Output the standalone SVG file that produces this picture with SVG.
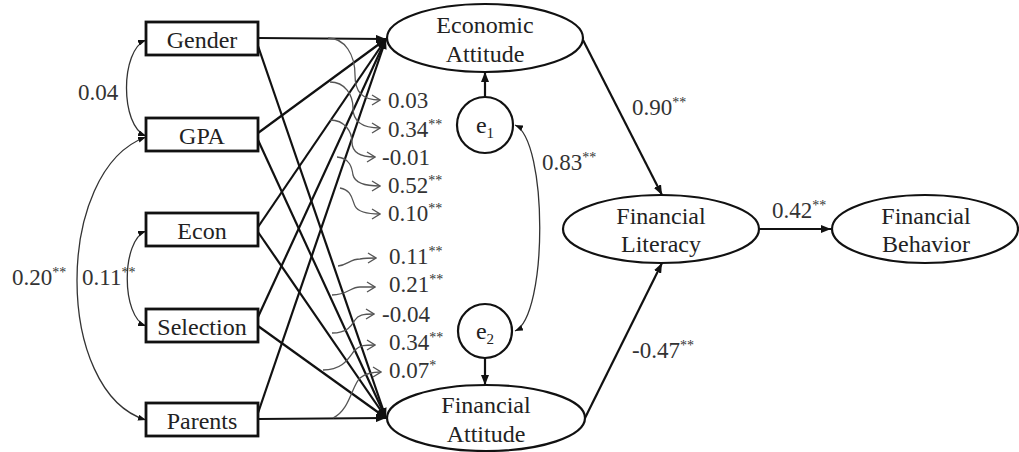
<svg xmlns="http://www.w3.org/2000/svg" width="1019" height="452" viewBox="0 0 1019 452">
<defs>
<marker id="ah" viewBox="0 0 10 8" refX="10" refY="4" markerWidth="10" markerHeight="8" markerUnits="userSpaceOnUse" orient="auto"><path d="M0,0 L10,4 L0,8 z" fill="#111"/></marker>
<marker id="sh" viewBox="0 0 8 6" refX="8" refY="3" markerWidth="8" markerHeight="6" markerUnits="userSpaceOnUse" orient="auto-start-reverse"><path d="M0,0 L8,3 L0,6 z" fill="#111"/></marker>
<marker id="oh" viewBox="0 0 10 12" refX="9" refY="6" markerWidth="10" markerHeight="12" markerUnits="userSpaceOnUse" orient="auto"><path d="M1,1 L9,6 L1,11" fill="none" stroke="#555" stroke-width="1.3"/></marker>
</defs>
<rect width="1019" height="452" fill="#fff"/>
<g id="connectors" fill="none">
<g stroke="#111" stroke-width="2.2" marker-end="url(#ah)">
<line x1="258" y1="38" x2="386" y2="39"/>
<line x1="258" y1="133" x2="386" y2="39"/>
<line x1="258" y1="227" x2="386" y2="39"/>
<line x1="258" y1="317" x2="386" y2="39"/>
<line x1="258" y1="413" x2="386" y2="39"/>
<line x1="258" y1="46" x2="386" y2="418"/>
<line x1="258" y1="140" x2="386" y2="418"/>
<line x1="258" y1="232" x2="386" y2="418"/>
<line x1="258" y1="326" x2="386" y2="418"/>
<line x1="258" y1="419" x2="386" y2="418"/>
<line x1="583" y1="40" x2="662" y2="195"/>
<line x1="585" y1="418" x2="662" y2="263"/>
<line x1="759" y1="229" x2="831" y2="229"/>
<line x1="485" y1="97" x2="485" y2="72"/>
<line x1="485" y1="358" x2="485" y2="385"/>
</g>
<g stroke="#333" stroke-width="1.3" marker-start="url(#sh)" marker-end="url(#sh)">
<path d="M146,40 C120,50 120,126 146,136"/>
<path d="M146,137 C54,170 54,392 146,420"/>
<path d="M146,231 C121,240 121,317 146,326"/>
<path d="M515,125 C548,140 548,316 515,331"/>
</g>
<g stroke="#555" stroke-width="1.3" marker-end="url(#oh)">
<path d="M328,38 C345,38 355,55 355,75 C355,92 362,100 380,100"/>
<path d="M330,82 C345,82 353,95 353,108 C353,122 362,128 380,128"/>
<path d="M330,120 C345,120 352,132 352,142 C352,152 360,157 375,157"/>
<path d="M337,157 C350,158 352,168 353,175 C355,183 365,186 380,186"/>
<path d="M340,188 C352,190 352,200 355,206 C358,212 366,214 380,214"/>
<path d="M338,266 C348,265 350,259 360,259 C366,258 370,258 376,258"/>
<path d="M332,295 C348,295 350,287 360,287 C366,287 370,287 375,287"/>
<path d="M332,333 C348,333 352,325 355,320 C358,315 363,314 374,314"/>
<path d="M323,370 C345,370 350,355 355,350 C360,345 365,345 375,345"/>
<path d="M333,418 C350,410 352,385 360,378 C366,373 372,372 381,372"/>
</g>
</g>
<g id="labels" fill="#333" font-family="Liberation Serif" font-size="23">
<text x="78" y="100">0.04</text>
<text x="12" y="285">0.20<tspan font-size="14" dy="-8">**</tspan></text>
<text x="82" y="285">0.11<tspan font-size="14" dy="-8">**</tspan></text>
<text x="388" y="108">0.03</text>
<text x="388" y="137">0.34<tspan font-size="14" dy="-8">**</tspan></text>
<text x="382" y="165">-0.01</text>
<text x="388" y="193">0.52<tspan font-size="14" dy="-8">**</tspan></text>
<text x="388" y="221">0.10<tspan font-size="14" dy="-8">**</tspan></text>
<text x="389" y="264">0.11<tspan font-size="14" dy="-8">**</tspan></text>
<text x="389" y="292">0.21<tspan font-size="14" dy="-8">**</tspan></text>
<text x="382" y="322">-0.04</text>
<text x="389" y="350">0.34<tspan font-size="14" dy="-8">**</tspan></text>
<text x="389" y="378">0.07<tspan font-size="14" dy="-8">*</tspan></text>
<text x="542" y="170">0.83<tspan font-size="14" dy="-8">**</tspan></text>
<text x="632" y="115">0.90<tspan font-size="14" dy="-8">**</tspan></text>
<text x="632" y="358">-0.47<tspan font-size="14" dy="-8">**</tspan></text>
<text x="772" y="218">0.42<tspan font-size="14" dy="-8">**</tspan></text>
</g>
<g id="nodes" font-family="Liberation Serif" font-size="24" text-anchor="middle">
<g id="gender"><rect x="146" y="22" width="112" height="33" fill="#fff" stroke="#111" stroke-width="2.8"/><text fill="#222" x="202" y="48">Gender</text></g>
<g id="gpa"><rect x="146" y="118" width="112" height="33" fill="#fff" stroke="#111" stroke-width="2.8"/><text fill="#222" x="202" y="144">GPA</text></g>
<g id="econ"><rect x="146" y="213" width="112" height="33" fill="#fff" stroke="#111" stroke-width="2.8"/><text fill="#222" x="202" y="239">Econ</text></g>
<g id="selection"><rect x="146" y="309" width="112" height="33" fill="#fff" stroke="#111" stroke-width="2.8"/><text fill="#222" x="202" y="335">Selection</text></g>
<g id="parents"><rect x="146" y="403" width="112" height="33" fill="#fff" stroke="#111" stroke-width="2.8"/><text fill="#222" x="202" y="429">Parents</text></g>
<g id="economic-attitude"><ellipse cx="485" cy="38" rx="98" ry="34" fill="#fff" stroke="#111" stroke-width="2.2"/><text fill="#222" x="485" y="33">Economic</text><text fill="#222" x="485" y="62">Attitude</text></g>
<g id="financial-attitude"><ellipse cx="486" cy="418" rx="99" ry="33" fill="#fff" stroke="#111" stroke-width="2.2"/><text fill="#222" x="486" y="413">Financial</text><text fill="#222" x="486" y="442">Attitude</text></g>
<g id="e1"><circle cx="485" cy="125" r="28" fill="#fff" stroke="#111" stroke-width="2.2"/><text fill="#222" x="485" y="133">e<tspan font-size="15" dy="5">1</tspan></text></g>
<g id="e2"><circle cx="485" cy="331" r="27" fill="#fff" stroke="#111" stroke-width="2.2"/><text fill="#222" x="485" y="339">e<tspan font-size="15" dy="5">2</tspan></text></g>
<g id="financial-literacy"><ellipse cx="661" cy="229" rx="98" ry="34" fill="#fff" stroke="#111" stroke-width="2.2"/><text fill="#222" x="661" y="224">Financial</text><text fill="#222" x="661" y="252">Literacy</text></g>
<g id="financial-behavior"><ellipse cx="925" cy="229" rx="93" ry="34" fill="#fff" stroke="#111" stroke-width="2.2"/><text fill="#222" x="926" y="224">Financial</text><text fill="#222" x="926" y="252">Behavior</text></g>
</g>
</svg>
